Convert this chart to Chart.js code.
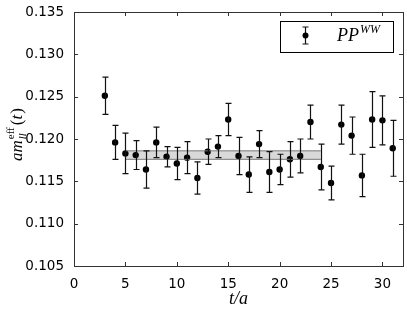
<!DOCTYPE html>
<html>
<head>
<meta charset="utf-8">
<script src="https://cdn.jsdelivr.net/npm/chart.js@4.4.1/dist/chart.umd.min.js"></script>
<style>
  html, body { margin: 0; padding: 0; background: #fff; }
</style>
</head>
<body>
<canvas id="chart" width="407" height="310"></canvas>
<script>
// time slices t/a
const tSlices = [3, 4, 5, 6, 7, 8, 9, 10, 11, 12, 13, 14, 15, 16, 17, 18, 19, 20, 21, 22, 23, 24, 25, 26, 27, 28, 29, 30, 31];
// effective mass values and errors
const effMass = [0.1251, 0.1196, 0.1183, 0.1181, 0.1164, 0.1196, 0.1179, 0.1171, 0.1178, 0.1154, 0.1185, 0.1191, 0.1223, 0.1180,
    0.1158, 0.1194, 0.1161, 0.1164, 0.1176, 0.1180, 0.1220, 0.1167, 0.1148, 0.1217, 0.1204, 0.1157, 0.1223, 0.1222, 0.1189];
const effErr = [0.0022, 0.0020, 0.0024, 0.0017, 0.0022, 0.0018, 0.0012, 0.0019, 0.0019, 0.0019, 0.0015, 0.0013, 0.0019, 0.0022,
    0.0021, 0.0016, 0.0024, 0.0018, 0.0021, 0.0020, 0.0020, 0.0027, 0.0020, 0.0023, 0.0022, 0.0025, 0.0033, 0.0029, 0.0033];
// plateau fit
const fitRange = [5, 24];
const fitValue = 0.1181;
const fitError = 0.0005;
// axes
const xTicks = [0, 5, 10, 15, 20, 25, 30];
const yTicks = [0.105, 0.110, 0.115, 0.120, 0.125, 0.130, 0.135];

const points = tSlices.map((t, i) => ({ x: t, y: effMass[i] }));
const fitHi = fitRange.map(t => ({ x: t, y: fitValue + fitError }));
const fitLo = fitRange.map(t => ({ x: t, y: fitValue - fitError }));

const serif = '"Liberation Serif", "DejaVu Serif", serif';

// error bars drawn through the scales
const errorBars = {
    id: 'errorBars',
    afterDatasetsDraw(chart) {
        const ctx = chart.ctx, xs = chart.scales.x, ys = chart.scales.y;
        ctx.save();
        ctx.strokeStyle = '#111';
        ctx.lineWidth = 1.2;
        tSlices.forEach((t, i) => {
            const px = Math.round(xs.getPixelForValue(t)) + 0.5;
            const top = ys.getPixelForValue(effMass[i] + effErr[i]);
            const bot = ys.getPixelForValue(effMass[i] - effErr[i]);
            ctx.beginPath();
            ctx.moveTo(px, top); ctx.lineTo(px, bot);
            ctx.moveTo(px - 3, top); ctx.lineTo(px + 3, top);
            ctx.moveTo(px - 3, bot); ctx.lineTo(px + 3, bot);
            ctx.stroke();
        });
        ctx.restore();
    }
};

// matplotlib style frame, inward ticks, y label, legend
const frame = {
    id: 'frame',
    afterDraw(chart) {
        const ctx = chart.ctx, a = chart.chartArea, xs = chart.scales.x, ys = chart.scales.y;
        ctx.save();
        ctx.strokeStyle = '#333';
        ctx.lineWidth = 1;
        ctx.strokeRect(a.left + 0.5, a.top + 0.5, a.right - a.left, a.bottom - a.top);
        ctx.beginPath();
        xTicks.forEach(v => {
            const px = Math.round(xs.getPixelForValue(v)) + 0.5;
            ctx.moveTo(px, a.bottom); ctx.lineTo(px, a.bottom - 4);
            ctx.moveTo(px, a.top); ctx.lineTo(px, a.top + 4);
        });
        yTicks.forEach(v => {
            const py = Math.round(ys.getPixelForValue(v)) + 0.5;
            ctx.moveTo(a.left, py); ctx.lineTo(a.left + 4, py);
            ctx.moveTo(a.right, py); ctx.lineTo(a.right - 4, py);
        });
        ctx.stroke();

        // y axis title: a m_ll^eff (t)
        ctx.fillStyle = '#000';
        ctx.translate(22, 161);
        ctx.rotate(-Math.PI / 2);
        ctx.textBaseline = 'alphabetic';
        ctx.font = 'italic 17px ' + serif;
        ctx.fillText('am', 0, 0);
        let w = ctx.measureText('am').width;
        ctx.font = 'italic 11px ' + serif;
        ctx.fillText('ll', w + 1, 4);
        ctx.font = '11px ' + serif;
        ctx.fillText('eff', w + 1, -8);
        w += ctx.measureText('eff').width + 3;
        ctx.font = '17px ' + serif;
        ctx.fillText('(', w, 0);
        w += ctx.measureText('(').width;
        ctx.font = 'italic 17px ' + serif;
        ctx.fillText('t', w, 0);
        w += ctx.measureText('t').width + 1;
        ctx.font = '17px ' + serif;
        ctx.fillText(')', w, 0);
        ctx.setTransform(1, 0, 0, 1, 0, 0);

        // legend
        ctx.fillStyle = '#fff';
        ctx.fillRect(280, 21, 113, 31);
        ctx.strokeStyle = '#000';
        ctx.strokeRect(280.5, 21.5, 113, 31);
        ctx.strokeStyle = '#111';
        ctx.lineWidth = 1.2;
        ctx.beginPath();
        ctx.moveTo(305.5, 27); ctx.lineTo(305.5, 44);
        ctx.moveTo(302.5, 27); ctx.lineTo(308.5, 27);
        ctx.moveTo(302.5, 44); ctx.lineTo(308.5, 44);
        ctx.stroke();
        ctx.fillStyle = '#000';
        ctx.beginPath();
        ctx.arc(305.5, 35.5, 3, 0, Math.PI * 2);
        ctx.fill();
        ctx.font = 'italic 18px ' + serif;
        ctx.fillText('PP', 337, 41);
        const pw = ctx.measureText('PP').width;
        ctx.font = 'italic 12px ' + serif;
        ctx.fillText('WW', 337 + pw + 1, 33);
        ctx.restore();
    }
};

new Chart(document.getElementById('chart'), {
    type: 'scatter',
    data: {
        datasets: [
            {
                type: 'line', data: fitHi, borderColor: '#777', borderWidth: 1,
                pointRadius: 0, fill: false
            },
            {
                type: 'line', data: fitLo, borderColor: '#777', borderWidth: 1,
                pointRadius: 0, fill: '-1', backgroundColor: 'rgba(0,0,0,0.15)'
            },
            {
                label: 'PP^WW', data: points, pointRadius: 3.2, pointHoverRadius: 3.2,
                backgroundColor: '#000', borderColor: '#000', borderWidth: 0
            }
        ]
    },
    options: {
        responsive: false,
        animation: false,
        devicePixelRatio: 1,
        layout: { padding: { top: 12, right: 4, left: 0, bottom: 0 } },
        plugins: { legend: { display: false }, tooltip: { enabled: false } },
        scales: {
            x: {
                type: 'linear', min: 0, max: 32,
                grid: { display: false }, border: { display: false },
                afterBuildTicks: s => { s.ticks = xTicks.map(v => ({ value: v })); },
                afterFit: s => { s.height = 44; },
                ticks: { color: '#000', padding: 2, maxRotation: 0, font: { family: 'DejaVu Sans', size: 13.5 } },
                title: {
                    display: true, text: 't/a', color: '#000', padding: { top: 0, bottom: 0 },
                    font: { family: serif, size: 18, style: 'italic' }
                }
            },
            y: {
                type: 'linear', min: 0.105, max: 0.135,
                grid: { display: false }, border: { display: false },
                afterBuildTicks: s => { s.ticks = yTicks.map(v => ({ value: v })); },
                afterFit: s => { s.width = 74; },
                ticks: {
                    color: '#000', padding: 2, font: { family: 'DejaVu Sans', size: 13.5 },
                    callback: v => v.toFixed(3)
                }
            }
        }
    },
    plugins: [errorBars, frame]
});
</script>
</body>
</html>
